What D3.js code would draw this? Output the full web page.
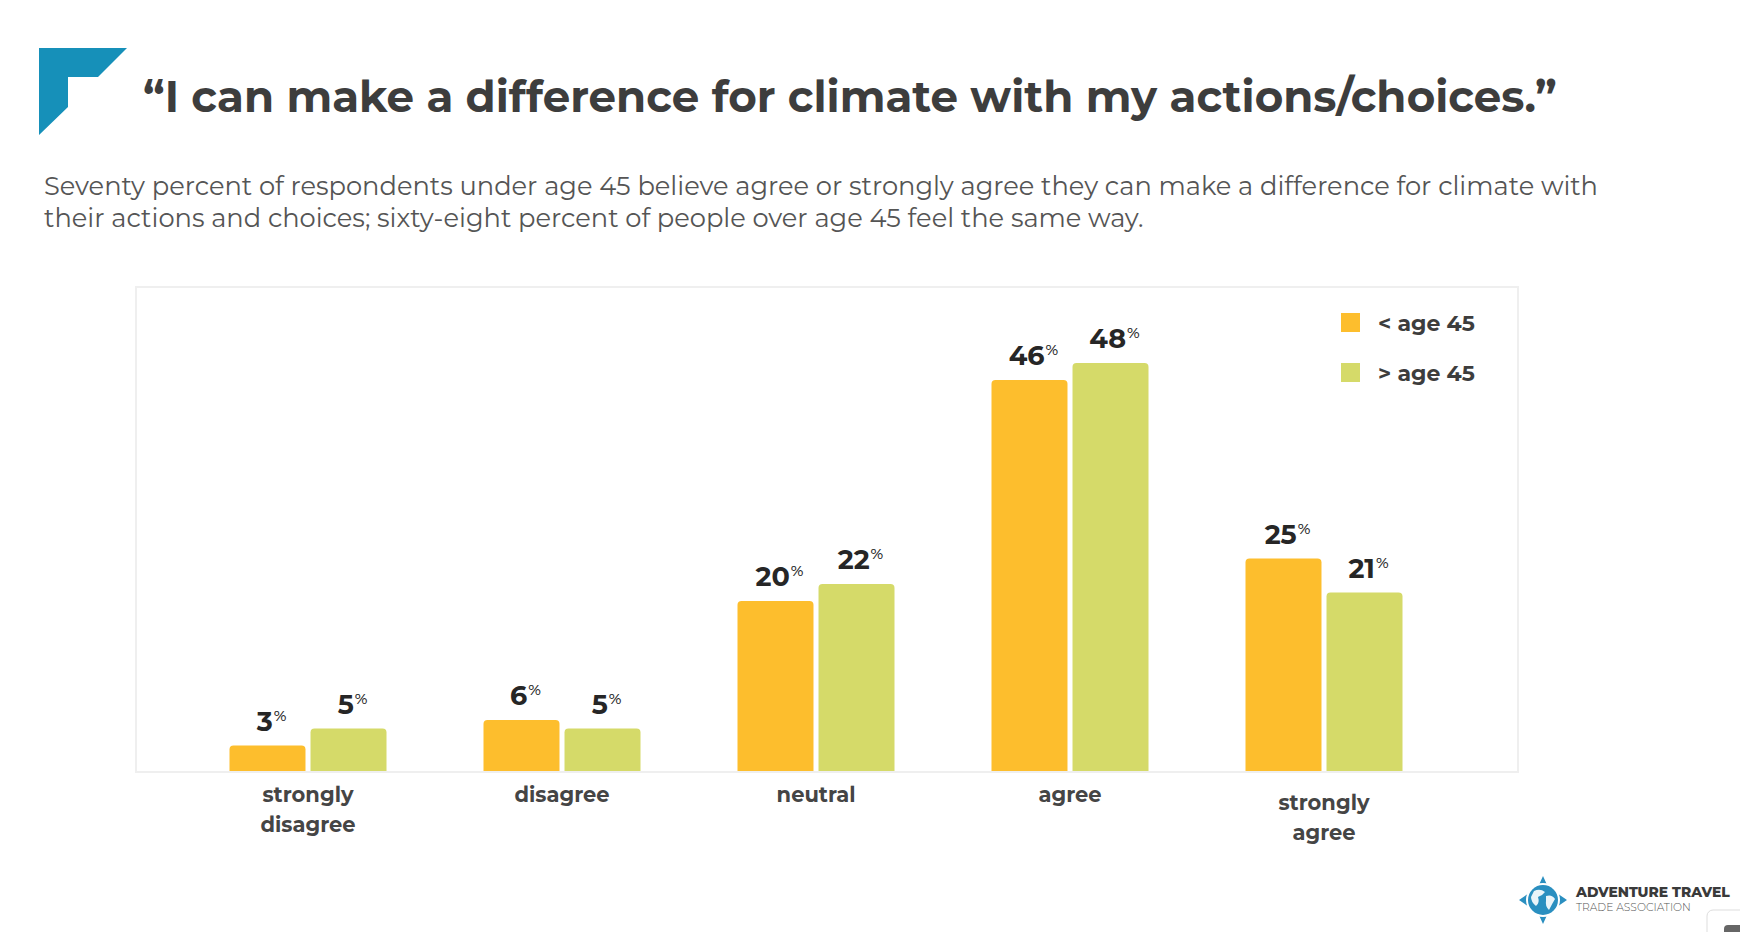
<!DOCTYPE html>
<html>
<head>
<meta charset="utf-8">
<script src="https://cdn.jsdelivr.net/npm/d3@7"></script>
<style>
  body { margin: 0; background: #fff; }
  svg { display: block; font-family: Montserrat, Inter, "Noto Sans", sans-serif; }
</style>
</head>
<body>
<div id="chart"></div>
<script>
// Chart data
var categories = ["strongly disagree", "disagree", "neutral", "agree", "strongly agree"];
var categoryLines = [["strongly", "disagree"], ["disagree"], ["neutral"], ["agree"], ["strongly", "agree"]];
var seriesNames = ["< age 45", "> age 45"];
var under45 = [3, 6, 20, 46, 25];
var over45 = [5, 5, 22, 48, 21];
var colors = ["#fdbe2d", "#d5da69"];

var titleText = "\u201cI can make a difference for climate with my actions/choices.\u201d";
var subtitleLines = [
  "Seventy percent of respondents under age 45 believe agree or strongly agree they can make a difference for climate with",
  "their actions and choices; sixty-eight percent of people over age 45 feel the same way."
];

var fontFamily = "Montserrat, Inter, 'Noto Sans', sans-serif";
var w = 1740;
var h = 932;

var svg = d3.select("#chart").append("svg")
  .attr("width", w)
  .attr("height", h);

// fit text to a target width by adjusting font size
function fitWidth(sel, target) {
  var len = sel.node().getComputedTextLength();
  var fs = parseFloat(sel.attr("font-size"));
  sel.attr("font-size", fs * target / len);
  return fs * target / len;
}

// Corner logo
svg.append("polygon")
  .attr("points", "39,48 127,48 98,77 68,77 68,107 39,135")
  .attr("fill", "#1690b9");

// Title
var title = svg.append("text")
  .attr("x", 143)
  .attr("y", 112)
  .attr("font-size", 44)
  .attr("font-weight", 700)
  .attr("fill", "#3d3d3d")
  .text(titleText);
fitWidth(title, 1414);

// Subtitle
var sub1 = svg.append("text")
  .attr("x", 44)
  .attr("y", 195)
  .attr("font-size", 24)
  .attr("fill", "#555")
  .text(subtitleLines[0]);
var subSize = fitWidth(sub1, 1555);
svg.append("text")
  .attr("x", 44)
  .attr("y", 227)
  .attr("font-size", subSize)
  .attr("fill", "#555")
  .text(subtitleLines[1]);

// Plot box
var box = { left: 136, top: 287, right: 1518, bottom: 772 };
svg.append("rect")
  .attr("x", box.left)
  .attr("y", box.top)
  .attr("width", box.right - box.left)
  .attr("height", box.bottom - box.top)
  .attr("fill", "none")
  .attr("stroke", "#efefef")
  .attr("stroke-width", 2);

// Scales
var x0 = d3.scaleBand()
  .domain(categories)
  .range([181, 1451]);

var pairW = 157;
var x1 = d3.scaleBand()
  .domain(seriesNames)
  .range([(x0.bandwidth() - pairW) / 2, (x0.bandwidth() + pairW) / 2])
  .paddingInner(0.062);

var y = d3.scaleLinear()
  .domain([0, 48])
  .range([box.bottom - 1, 363]);

var rows = categories.map(function (c, i) {
  return { cat: c, values: [under45[i], over45[i]] };
});

// bar with rounded top corners
function barPath(x, yTop, bw, yBase, r) {
  return "M" + x + "," + yBase +
    "V" + (yTop + r) +
    "Q" + x + "," + yTop + " " + (x + r) + "," + yTop +
    "H" + (x + bw - r) +
    "Q" + (x + bw) + "," + yTop + " " + (x + bw) + "," + (yTop + r) +
    "V" + yBase + "Z";
}

var groups = svg.selectAll("g.group")
  .data(rows)
  .enter()
  .append("g")
  .attr("class", "group")
  .attr("transform", function (d) { return "translate(" + x0(d.cat) + ",0)"; });

var cells = groups.selectAll("g.cell")
  .data(function (d) {
    return d.values.map(function (v, j) { return { s: seriesNames[j], v: v, j: j }; });
  })
  .enter()
  .append("g")
  .attr("class", "cell");

cells.append("path")
  .attr("d", function (d) {
    return barPath(x1(d.s), y(d.v), x1.bandwidth(), y(0), 4);
  })
  .attr("fill", function (d) { return colors[d.j]; });

// Value labels
var labels = cells.append("text")
  .attr("x", function (d) { return x1(d.s) + x1.bandwidth() / 2 + 4; })
  .attr("y", function (d) { return y(d.v) - 15; })
  .attr("text-anchor", "middle")
  .attr("font-size", 27)
  .attr("font-weight", 700)
  .attr("fill", "#262626");
labels.append("tspan").text(function (d) { return d.v; });
labels.append("tspan")
  .attr("dx", 1)
  .attr("dy", -10)
  .attr("font-size", 15)
  .attr("font-weight", 500)
  .text("%");

// Category axis
var xAxis = svg.append("g")
  .attr("transform", "translate(0," + box.bottom + ")")
  .call(d3.axisBottom(x0).tickSize(0).tickFormat(""))
  .attr("font-family", fontFamily);
xAxis.select(".domain").remove();

xAxis.selectAll(".tick").append("text")
  .attr("text-anchor", "middle")
  .attr("font-size", 21)
  .attr("font-weight", 700)
  .attr("fill", "#454545")
  .each(function (d, i) {
    var lines = categoryLines[i];
    var offset = lines.length > 1 && i === categories.length - 1 ? 8 : 0;
    var t = d3.select(this);
    lines.forEach(function (l, k) {
      t.append("tspan")
        .attr("x", 0)
        .attr("y", 30 + offset + k * 30)
        .text(l);
    });
  });

// Legend
var legend = svg.selectAll("g.legend")
  .data(seriesNames)
  .enter()
  .append("g")
  .attr("class", "legend")
  .attr("transform", function (d, i) { return "translate(1341," + (313 + i * 50) + ")"; });
legend.append("rect")
  .attr("width", 19)
  .attr("height", 19)
  .attr("fill", function (d, i) { return colors[i]; });
legend.append("text")
  .attr("x", 37)
  .attr("y", 18)
  .attr("font-size", 22)
  .attr("font-weight", 700)
  .attr("fill", "#3d3d3d")
  .text(function (d) { return d; });

// Footer logo (ATTA)
var logo = svg.append("g").attr("transform", "translate(1543,900)");
logo.append("path")
  .attr("d", "M0,-24 L5,-13 L24,0 L5,13 L0,24 L-5,13 L-24,0 L-5,-13 Z")
  .attr("fill", "#2a8fc0");
logo.append("circle").attr("r", 17).attr("fill", "#fff");
logo.append("circle").attr("r", 15).attr("fill", "#2a8fc0");
logo.append("path")
  .attr("d", "M-9,-9 Q-3,-12 2,-8 Q-1,-4 -5,-3 Q-3,3 -7,6 Q-12,2 -12,-3 Z M3,-4 Q9,-6 12,-1 Q9,4 6,10 Q2,6 3,1 Z")
  .attr("fill", "#fff")
  .attr("opacity", 0.9);

svg.append("text")
  .attr("x", 1576)
  .attr("y", 897)
  .attr("font-size", 13.5)
  .attr("font-weight", 800)
  .attr("fill", "#3a3a3a")
  .text("ADVENTURE TRAVEL")
  .call(function (s) { fitWidth(s, 154); });
svg.append("text")
  .attr("x", 1576)
  .attr("y", 911)
  .attr("font-size", 12)
  .attr("font-weight", 300)
  .attr("fill", "#555")
  .text("TRADE ASSOCIATION")
  .call(function (s) { fitWidth(s, 115); });

// corner widget edge
svg.append("rect")
  .attr("x", 1707)
  .attr("y", 910)
  .attr("width", 60)
  .attr("height", 40)
  .attr("rx", 6)
  .attr("fill", "#fff")
  .attr("stroke", "#ddd");
svg.append("rect")
  .attr("x", 1724)
  .attr("y", 925)
  .attr("width", 30)
  .attr("height", 20)
  .attr("rx", 4)
  .attr("fill", "#666");
</script>
</body>
</html>
